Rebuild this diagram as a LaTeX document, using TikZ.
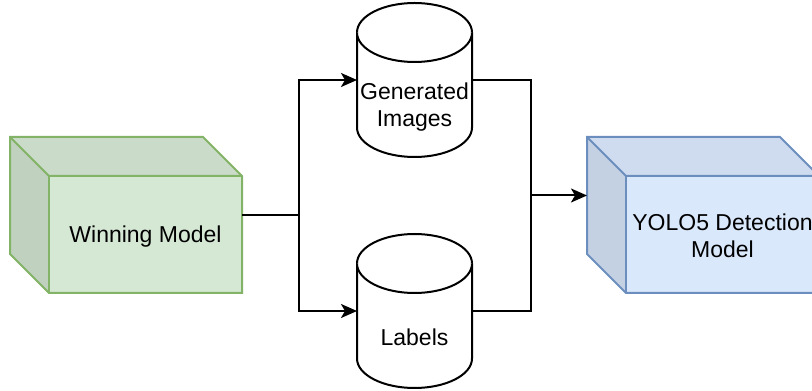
\documentclass[tikz,border=0pt]{standalone}
\usepackage{fontspec}
\setmainfont{Liberation Sans}
\usetikzlibrary{calc,arrows.meta}

\definecolor{greenfill}{HTML}{D5E8D4}
\definecolor{greenline}{HTML}{82B366}
\definecolor{bluefill}{HTML}{DAE8FC}
\definecolor{blueline}{HTML}{6C8EBF}

% 3D box: top face 5% darker, left face 10% darker, depth 39pt
\newcommand\boxcube[3]{%
  \fill[#2!95!black] (#1.north west) -- ($(#1.north east)+(-39,0)$)
    -- ($(#1.north east)+(0,-39)$) -- ($(#1.north west)+(39,-39)$) -- cycle;
  \fill[#2!90!black] (#1.north west) -- ($(#1.north west)+(39,-39)$)
    -- ($(#1.south west)+(39,0)$) -- ($(#1.south west)+(0,39)$) -- cycle;
  \fill[#2] ($(#1.north west)+(39,-39)$) rectangle (#1.south east);
  \draw[boxline=#3] (#1.north west) -- ($(#1.north east)+(-39,0)$)
    -- ($(#1.north east)+(0,-39)$) -- (#1.south east)
    -- ($(#1.south west)+(39,0)$) -- ($(#1.south west)+(0,39)$) -- cycle;
  \draw[boxline=#3] (#1.north west) -- ($(#1.north west)+(39,-39)$)
    -- ($(#1.north east)+(0,-39)$);
  \draw[boxline=#3] ($(#1.north west)+(39,-39)$) -- ($(#1.south west)+(39,0)$);
}

% storage drum drawn inside the frame of a node
\newcommand\drum[1]{%
  \filldraw[drumline] ($(#1.north west)+(0,-29.5)$) -- ($(#1.south west)+(0,29.5)$)
    arc[start angle=180,end angle=360,x radius=57.5pt,y radius=29.5pt]
    -- ($(#1.north east)+(0,-29.5)$)
    arc[start angle=0,end angle=180,x radius=57.5pt,y radius=29.5pt] -- cycle;
  \draw[drumline] ($(#1.north west)+(0,-29.5)$)
    arc[start angle=180,end angle=360,x radius=57.5pt,y radius=29.5pt];
}

\tikzset{
  frame/.style={draw=none, inner sep=0pt, outer sep=0pt},
  cubeframe/.style={frame, minimum width=232pt, minimum height=156pt},
  drumframe/.style={frame, minimum width=115pt, minimum height=154pt},
  boxline/.style={draw=#1, line width=2pt, line join=miter},
  drumline/.style={draw=black, fill=white, line width=2pt},
  caption/.style={inner sep=0pt, align=center, font=\fontsize{23}{27}\selectfont},
  wire/.style={draw=black, line width=2pt},
  flow/.style={wire, -{Stealth[length=16pt,width=14pt,inset=4pt]}},
}

\begin{document}
\begin{tikzpicture}[x=1pt,y=1pt]
  \useasboundingbox (0,0) rectangle (812,391);
  \clip (0,0) rectangle (812,391);

  % frames
  \node[cubeframe] (win) at (126,176) {};
  \node[cubeframe] (yolo) at (703,176) {};
  \node[drumframe] (gen) at (414.5,311) {};
  \node[drumframe] (lab) at (414.5,80) {};

  % shapes
  \boxcube{win}{greenfill}{greenline}
  \boxcube{yolo}{bluefill}{blueline}
  \drum{gen}
  \drum{lab}

  % texts
  \node[caption, anchor=base] (wintext) at (145.5,148.3) {Winning Model};
  \node[caption] (yolotext) at (722.5,155.7) {YOLO5 Detection\\Model};
  \node[caption] (gentext) at (414.5,283.6) {Generated\\Images};
  \node[caption] (labtext) at (414.5,54.1) {Labels};

  % connectors
  \coordinate (split) at (299,176);
  \coordinate (merge) at (531,195.5);
  \draw[wire] (win.east) -- (split);
  \draw[flow] (split) |- (gen.west);
  \draw[flow] (split) |- (lab.west);
  \draw[wire] (gen.east) -| (merge);
  \draw[wire] (lab.east) -| (merge);
  \draw[flow] (merge) -- (merge -| yolo.west);
\end{tikzpicture}
\end{document}
